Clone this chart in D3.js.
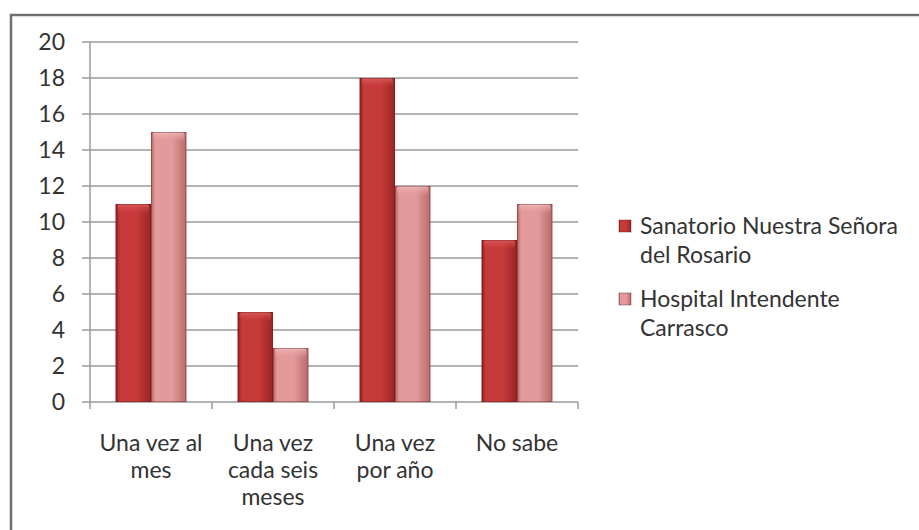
<!DOCTYPE html>
<html><head><meta charset="utf-8">
<script src="https://cdn.jsdelivr.net/npm/d3@7"></script>
<style>body{margin:0;background:#fff;}svg{display:block;font-family:Lato,"Open Sans",sans-serif;}</style>
</head><body><svg id="c" width="919" height="530"></svg>
<script>
const categories = [["Una vez al","mes"],["Una vez","cada seis","meses"],["Una vez","por año"],["No sabe"]];
const seriesNames = [["Sanatorio Nuestra Señora","del Rosario"],["Hospital Intendente","Carrasco"]];
const sanatorio = [11,5,18,9];
const hospital = [15,3,12,11];
const yTicks = [0,2,4,6,8,10,12,14,16,18,20];

const svg = d3.select("#c");
const defs = svg.append("defs");
const pal = [
  {edgeL:"#8e1c1c", mid:"#c73a3a", edgeR:"#9a2424", cap:"#e06060"},
  {edgeL:"#b86262", mid:"#e39a9a", edgeR:"#b86a6a", cap:"#f0baba"}
];
pal.forEach((p,i)=>{
  const g = defs.append("linearGradient").attr("id","g"+i).attr("x1","0").attr("x2","1").attr("y1","0").attr("y2","0");
  g.append("stop").attr("offset","0").attr("stop-color",p.edgeL);
  g.append("stop").attr("offset","0.12").attr("stop-color",p.mid);
  g.append("stop").attr("offset","0.6").attr("stop-color",p.mid);
  g.append("stop").attr("offset","1").attr("stop-color",p.edgeR);
  const c = defs.append("linearGradient").attr("id","cap"+i).attr("x1","0").attr("x2","0").attr("y1","0").attr("y2","1");
  c.append("stop").attr("offset","0").attr("stop-color",p.cap).attr("stop-opacity",0.9);
  c.append("stop").attr("offset","1").attr("stop-color",p.mid).attr("stop-opacity",0);
});

// border
svg.append("path").attr("d","M11,530 V15 H919").attr("fill","none").attr("stroke","#6f6f6f").attr("stroke-width",2.5);

const x0 = d3.scaleBand().domain(d3.range(categories.length)).range([90,578]).paddingInner(0.42).paddingOuter(0.21);
const x1 = d3.scaleBand().domain([0,1]).range([0,x0.bandwidth()]);
const y = d3.scaleLinear().domain([0,20]).range([402,42]);

// gridlines
svg.append("g").selectAll("line").data(yTicks).join("line")
  .attr("x1",82).attr("x2",578).attr("y1",d=>y(d)).attr("y2",d=>y(d))
  .attr("stroke","#9a9a9a").attr("stroke-width",1.5);
// y axis line
svg.append("line").attr("x1",90).attr("x2",90).attr("y1",42).attr("y2",402).attr("stroke","#9a9a9a").attr("stroke-width",1.5);
// x ticks
svg.append("g").selectAll("line").data(d3.range(categories.length+1)).join("line")
  .attr("x1",i=>90+i*(578-90)/categories.length).attr("x2",i=>90+i*(578-90)/categories.length)
  .attr("y1",402).attr("y2",409).attr("stroke","#9a9a9a").attr("stroke-width",1.5);

// y labels
svg.append("g").selectAll("text").data(yTicks).join("text")
  .attr("x",65).attr("y",d=>y(d)).attr("dy","0.35em").attr("text-anchor","end")
  .attr("font-size",23).attr("fill","#333").text(d=>d);

// bars
const data = [sanatorio, hospital];
data.forEach((vals,s)=>{
  const g = svg.append("g");
  vals.forEach((v,i)=>{
    const bx = x0(i)+x1(s), bw = x1.bandwidth(), by = y(v), bh = y(0)-y(v);
    g.append("rect").attr("x",bx).attr("y",by).attr("width",bw).attr("height",bh).attr("fill",`url(#g${s})`);
    g.append("rect").attr("x",bx+2).attr("y",by).attr("width",bw-4).attr("height",Math.min(10,bh)).attr("fill",`url(#cap${s})`).attr("rx",3);
    g.append("rect").attr("x",bx+0.5).attr("y",by+0.5).attr("width",bw-1).attr("height",bh-1).attr("fill","none").attr("stroke","rgba(80,20,20,0.35)").attr("stroke-width",1);
  });
});

// category labels
categories.forEach((lines,i)=>{
  const t = svg.append("text").attr("text-anchor","middle").attr("font-size",23).attr("fill","#333");
  lines.forEach((l,k)=>{
    t.append("tspan").attr("x",x0(i)+x0.bandwidth()/2).attr("y",451+k*27).text(l);
  });
});

// legend
const legY = [234,307];
seriesNames.forEach((lines,s)=>{
  svg.append("rect").attr("x",619).attr("y",legY[s]-14).attr("width",12).attr("height",12).attr("fill",`url(#g${s})`).attr("stroke","rgba(80,20,20,0.4)");
  const t = svg.append("text").attr("font-size",23).attr("fill","#333");
  lines.forEach((l,k)=>t.append("tspan").attr("x",640).attr("y",legY[s]+k*29).text(l));
});
</script></body></html>
